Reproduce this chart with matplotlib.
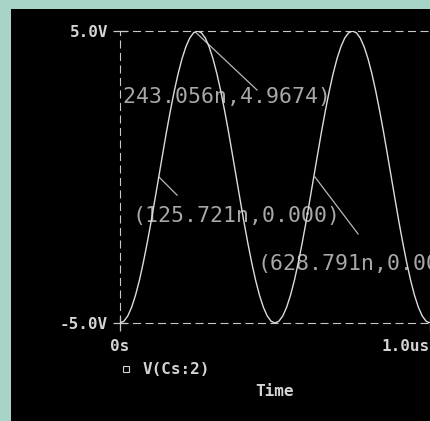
import numpy as np
import matplotlib
matplotlib.use("Agg")
import matplotlib.pyplot as plt
from matplotlib.patches import Rectangle
from matplotlib.lines import Line2D

# ---------------- data ----------------
time_us = np.arange(0, 81) * 0.0125          # sample grid (0 .. 1.0 us)
v_cs2 = [-5.00, -4.94, -4.76, -4.46, -4.05, -3.54, -2.94, -2.27, -1.55, -0.78,
         0.00, 0.78, 1.55, 2.27, 2.94, 3.54, 4.05, 4.46, 4.76, 4.94,
         5.00, 4.94, 4.76, 4.46, 4.05, 3.54, 2.94, 2.27, 1.55, 0.78,
         0.00, -0.78, -1.55, -2.27, -2.94, -3.54, -4.05, -4.46, -4.76, -4.94,
         -5.00, -4.94, -4.76, -4.46, -4.05, -3.54, -2.94, -2.27, -1.55, -0.78,
         0.00, 0.78, 1.55, 2.27, 2.94, 3.54, 4.05, 4.46, 4.76, 4.94,
         5.00, 4.94, 4.76, 4.46, 4.05, 3.54, 2.94, 2.27, 1.55, 0.78,
         0.00, -0.78, -1.55, -2.27, -2.94, -3.54, -4.05, -4.46, -4.76, -4.94,
         -5.00]
series_label = "V(Cs:2)"
y_ticks = [-5.0, 5.0]
y_ticklabels = ["-5.0V", "5.0V"]
x_ticks = [0.0, 1.0]
x_ticklabels = ["0s", "1.0us"]
x_label = "Time"

cursor_t = [0.243056, 0.125721, 0.628791]     # us
cursor_v = [4.9674, 0.000, 0.000]
cursor_text = ["(243.056n,4.9674)", "(125.721n,0.000)", "(628.791n,0.000)"]
# label anchor (left, centre) and leader end, in data units
label_pos = [(-0.032, 2.74), (0.0417, -1.34), (0.442, -2.98)]
leader_end = [(0.442, 2.98), (0.184, -0.62), (0.768, -1.95)]

# ---------------- style ----------------
W, H = 430, 421
BG = "#a8d4c8"
PANEL = "#000000"
LBL = "#d4d4d4"
GRID = "#c8c8c8"
CURVE = "#dcdcdc"
ANN = "#a8a8a8"
MONO = ["DejaVu Sans Mono"]
plt.rcParams["lines.scale_dashes"] = False

fig = plt.figure(figsize=(W / 100, H / 100), dpi=100, facecolor=BG)
fig.add_artist(Rectangle((11 / W, 0), 1 - 11 / W, (H - 9) / H,
                         transform=fig.transFigure, facecolor=PANEL,
                         edgecolor="none", zorder=0))

ax_l, ax_r, ax_t, ax_b = 120, 430, 31, 323
ax = fig.add_axes([ax_l / W, (H - ax_b) / H, (ax_r - ax_l) / W, (ax_b - ax_t) / H])
ax.set_facecolor("none")
ax.set_xlim(0, 1.0)
ax.set_ylim(-5, 5)
for s in ax.spines.values():
    s.set_visible(False)

dash = (0, (5.8, 3.2))
ax.axhline(5, color=GRID, lw=0.8, ls=dash, clip_on=False, zorder=1)
ax.axhline(-5, color=GRID, lw=0.8, ls=dash, clip_on=False, zorder=1)
ax.axvline(0, color=GRID, lw=0.8, ls=dash, clip_on=False, zorder=1)

ax.plot(time_us, v_cs2, color=CURVE, lw=1.0, zorder=3)

ax.set_yticks(y_ticks)
ax.set_yticklabels(y_ticklabels, family=MONO, weight="bold", fontsize=11.5, color=LBL)
ax.set_xticks(x_ticks)
ax.set_xticklabels(x_ticklabels, family=MONO, weight="bold", fontsize=11.5, color=LBL)
ax.get_xticklabels()[-1].set_ha("right")
ax.tick_params(axis="y", direction="inout", length=10, width=0.9, color=GRID, pad=3.6)
ax.tick_params(axis="x", direction="inout", length=10.8, width=0.9, color=GRID, pad=6.0)
ax.set_xlabel(x_label, family=MONO, weight="bold", fontsize=11.5, color=LBL, labelpad=22)

for t, v, txt, (lx, ly), (ex, ey) in zip(cursor_t, cursor_v, cursor_text, label_pos, leader_end):
    ax.plot([t, ex], [v, ey], color="#b8b8b8", lw=0.9, zorder=2)
    ax.text(lx, ly, txt, family=MONO, fontsize=15.5, color=ANN, ha="left",
            va="center", clip_on=True, zorder=2)

handle = Line2D([], [], marker="s", ms=4.2, mfc="none", mec=LBL, mew=0.8, ls="none")
leg = ax.legend([handle], [series_label], loc="center left",
                bbox_to_anchor=(118 / W, 1 - 370 / H), bbox_transform=fig.transFigure,
                frameon=False, borderpad=0, borderaxespad=0, handlelength=1.0,
                handletextpad=0.56, prop={"family": MONO, "weight": "bold", "size": 11.5})
for t in leg.get_texts():
    t.set_color(LBL)

fig.savefig("out.png", dpi=100, facecolor=BG)
